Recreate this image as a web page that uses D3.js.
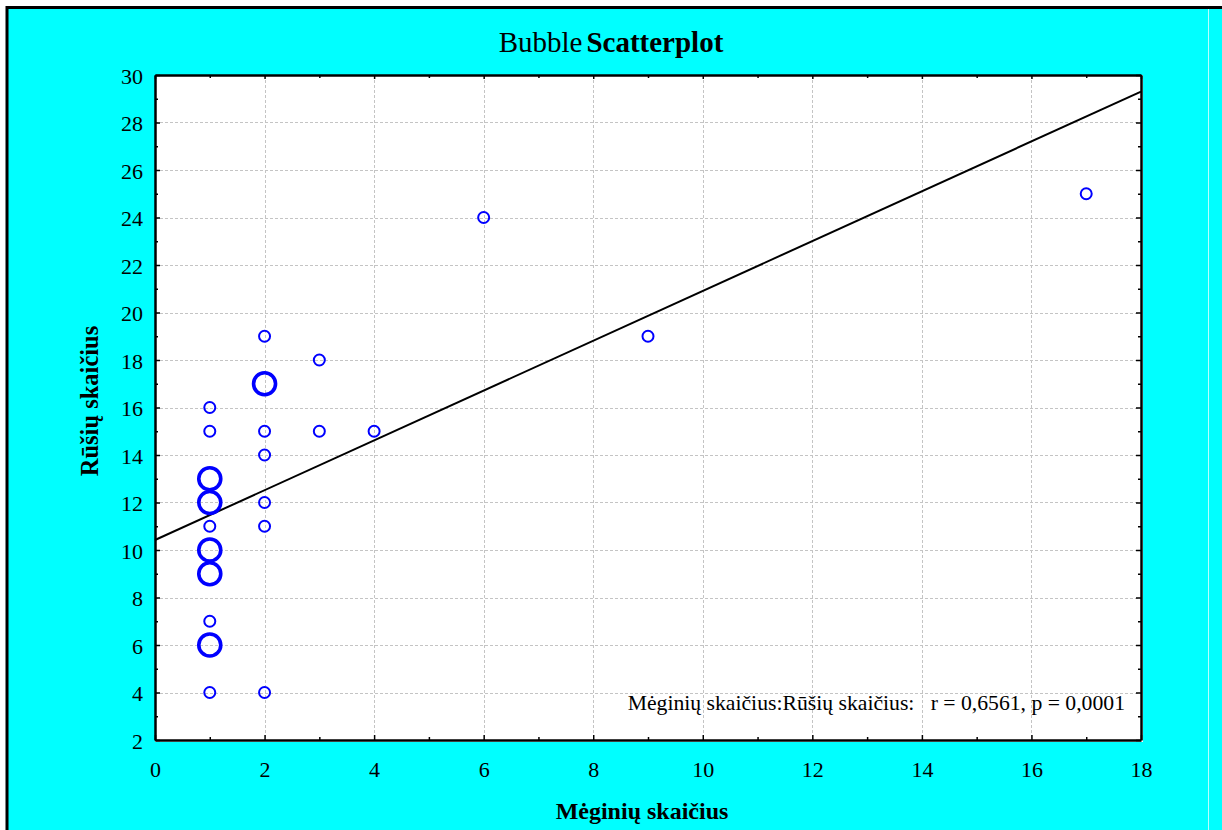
<!DOCTYPE html>
<html>
<head>
<meta charset="utf-8">
<script src="https://cdn.jsdelivr.net/npm/d3@7"></script>
<style>
  html, body { margin: 0; padding: 0; background: #ffffff; }
  svg { display: block; }
  text { font-family: "Liberation Serif", "Times New Roman", serif; fill: #000; }
</style>
</head>
<body>
<svg id="chart" width="1222" height="830"></svg>
<script>
// ---- data ----
const pointX    = [1, 1, 1, 1, 1, 1, 1, 1, 1, 1, 2, 2, 2, 2, 2, 2, 2, 3, 3, 4, 6, 9, 17];
const pointY    = [16, 15, 13, 12, 11, 10, 9, 7, 6, 4, 19, 17, 15, 14, 12, 11, 4, 18, 15, 15, 24, 19, 25];
const pointSize = [1, 1, 2, 2, 1, 2, 2, 1, 2, 1, 1, 2, 1, 1, 1, 1, 1, 1, 1, 1, 1, 1, 1];
const fitX = [0, 18];
const fitY = [10.42, 29.30];
const xMajorTicks = [0, 2, 4, 6, 8, 10, 12, 14, 16, 18];
const xMinorTicks = [1, 3, 5, 7, 9, 11, 13, 15, 17];
const yMajorTicks = [2, 4, 6, 8, 10, 12, 14, 16, 18, 20, 22, 24, 26, 28, 30];
const yMinorTicks = [3, 5, 7, 9, 11, 13, 15, 17, 19, 21, 23, 25, 27, 29];
const titleNormal = "Bubble";
const titleBold = "Scatterplot";
const xTitle = "Mėginių skaičius";
const yTitle = "Rūšių skaičius";
const statText = "Mėginių skaičius:Rūšių skaičius:   r = 0,6561, p = 0,0001";

// ---- layout ----
const svg = d3.select("#chart");
const L = 155, R = 1141, T = 75, B = 740;
const x = d3.scaleLinear().domain([0, 18]).range([L, R]);
const y = d3.scaleLinear().domain([2, 30]).range([B, T]);
const rScale = d3.scaleLinear().domain([1, 2]).range([5.5, 11]);
const swScale = d3.scaleLinear().domain([1, 2]).range([2, 3.6]);

// page frame
svg.append("rect").attr("x", 7).attr("y", 7).attr("width", 1222).attr("height", 830).attr("fill", "#00ffff");
svg.append("line").attr("x1", 7).attr("x2", 1222).attr("y1", 7.5).attr("y2", 7.5).attr("stroke", "#000").attr("stroke-width", 3);
svg.append("line").attr("x1", 7).attr("x2", 7).attr("y1", 6).attr("y2", 830).attr("stroke", "#000").attr("stroke-width", 3);
svg.append("line").attr("x1", 1208.5).attr("x2", 1208.5).attr("y1", 9).attr("y2", 830).attr("stroke", "#b8ffff").attr("stroke-width", 1);

// plot background
svg.append("rect").attr("x", L).attr("y", T).attr("width", R - L + 2).attr("height", B - T + 2).attr("fill", "#ffffff");

// grid
const grid = svg.append("g").attr("stroke", "#c4c4c4").attr("stroke-width", 1).attr("stroke-dasharray", "3,2");
grid.selectAll(".gx").data(xMajorTicks.filter(d => d > 0 && d < 18)).join("line")
  .attr("x1", d => Math.round(x(d)) + 0.5).attr("x2", d => Math.round(x(d)) + 0.5)
  .attr("y1", T).attr("y2", B);
grid.selectAll(".gy").data(yMajorTicks.filter(d => d > 2 && d < 30)).join("line")
  .attr("y1", d => Math.round(y(d)) + 0.5).attr("y2", d => Math.round(y(d)) + 0.5)
  .attr("x1", L).attr("x2", R);

// regression line
svg.append("path")
  .datum(fitX.map((d, i) => [d, fitY[i]]))
  .attr("d", d3.line().x(d => x(d[0])).y(d => y(d[1])))
  .attr("fill", "none").attr("stroke", "#000").attr("stroke-width", 2);

// bubbles
svg.append("g").selectAll("circle").data(pointX.map((d, i) => ({x: d, y: pointY[i], s: pointSize[i]})))
  .join("circle")
  .attr("cx", d => x(d.x)).attr("cy", d => y(d.y))
  .attr("r", d => rScale(d.s))
  .attr("fill", "none").attr("stroke", "#0000ff")
  .attr("stroke-width", d => swScale(d.s));

// axes
function styleAxis(g) {
  g.attr("font-family", null);
  g.selectAll(".domain").attr("stroke", "#000").attr("stroke-width", 2.5);
  g.selectAll(".tick line").attr("stroke", "#000").attr("stroke-width", 1.5);
  g.selectAll(".tick text").style("font-family", "'Liberation Serif', serif").style("font-size", "22px").attr("fill", "#000");
}
// bottom
svg.append("g").attr("transform", `translate(0,${B})`)
  .call(d3.axisBottom(x).tickValues(xMajorTicks).tickFormat(d3.format("d")).tickSizeInner(-5).tickSizeOuter(0).tickPadding(21))
  .call(styleAxis);
svg.append("g").attr("transform", `translate(0,${B})`)
  .call(d3.axisBottom(x).tickValues(xMinorTicks).tickFormat("").tickSizeInner(-3).tickSizeOuter(0))
  .call(styleAxis).call(g => g.select(".domain").remove());
// top
svg.append("g").attr("transform", `translate(0,${T})`)
  .call(d3.axisTop(x).tickValues(xMajorTicks).tickFormat("").tickSizeInner(-4).tickSizeOuter(0))
  .call(styleAxis);
svg.append("g").attr("transform", `translate(0,${T})`)
  .call(d3.axisTop(x).tickValues(xMinorTicks).tickFormat("").tickSizeInner(-3).tickSizeOuter(0))
  .call(styleAxis).call(g => g.select(".domain").remove());
// left
svg.append("g").attr("transform", `translate(${L},0)`)
  .call(d3.axisLeft(y).tickValues(yMajorTicks).tickFormat(d3.format("d")).tickSizeInner(-5).tickSizeOuter(0).tickPadding(12))
  .call(styleAxis)
  .call(g => g.selectAll(".tick text").attr("dy", "0.38em"));
svg.append("g").attr("transform", `translate(${L},0)`)
  .call(d3.axisLeft(y).tickValues(yMinorTicks).tickFormat("").tickSizeInner(-3).tickSizeOuter(0))
  .call(styleAxis).call(g => g.select(".domain").remove());
// right
svg.append("g").attr("transform", `translate(${R},0)`)
  .call(d3.axisRight(y).tickValues(yMajorTicks).tickFormat("").tickSizeInner(-5).tickSizeOuter(0))
  .call(styleAxis);
svg.append("g").attr("transform", `translate(${R},0)`)
  .call(d3.axisRight(y).tickValues(yMinorTicks).tickFormat("").tickSizeInner(-3).tickSizeOuter(0))
  .call(styleAxis).call(g => g.select(".domain").remove());

// title
const title = svg.append("text").attr("x", 611).attr("y", 52).attr("text-anchor", "middle").style("font-size", "29px");
title.append("tspan").text(titleNormal);
title.append("tspan").attr("dx", 4).style("font-weight", "bold").text(titleBold);

// axis titles
svg.append("text").attr("x", 642).attr("y", 819).attr("text-anchor", "middle")
  .style("font-size", "24px").style("font-weight", "bold").text(xTitle);
svg.append("text").attr("transform", "translate(98,401) rotate(-90)").attr("text-anchor", "middle")
  .style("font-size", "24.5px").style("font-weight", "bold").text(yTitle);

// statistics annotation
svg.append("text").attr("x", 1125).attr("y", 710).attr("text-anchor", "end")
  .style("font-size", "21.7px").style("white-space", "pre").attr("xml:space", "preserve").text(statText);
</script>
</body>
</html>
